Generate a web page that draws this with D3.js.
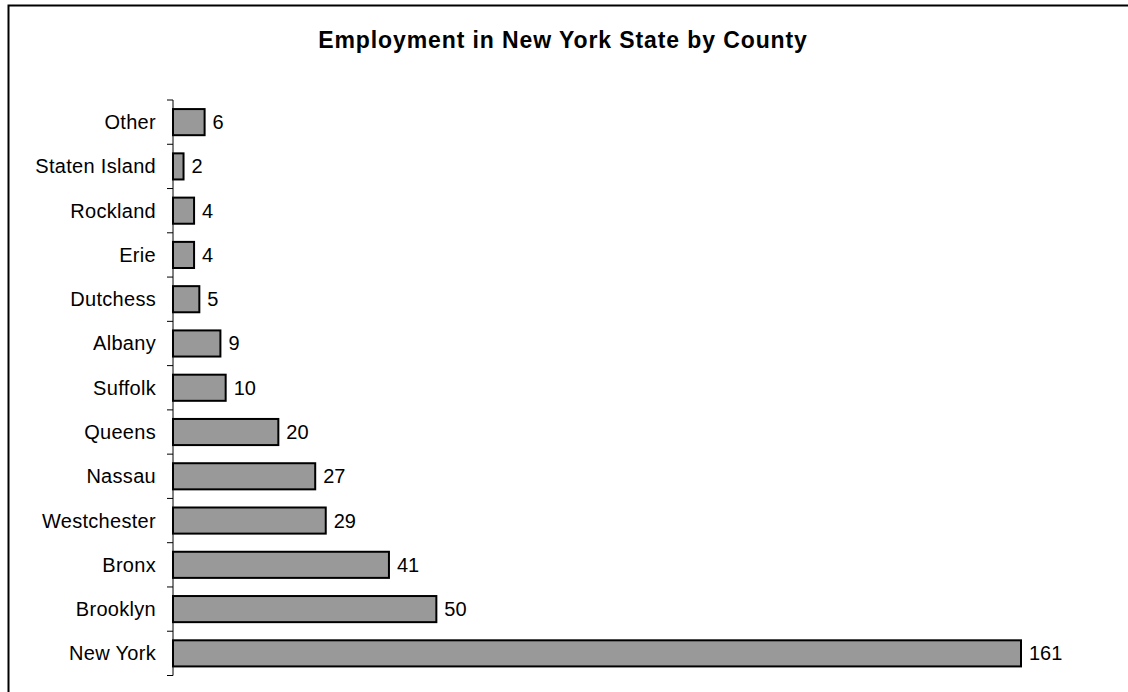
<!DOCTYPE html>
<html>
<head>
<meta charset="utf-8">
<script src="https://cdn.jsdelivr.net/npm/d3@7"></script>
<style>
  html, body { margin: 0; padding: 0; background: #fff; }
  svg { display: block; font-family: "Liberation Sans", Arial, sans-serif; }
</style>
</head>
<body>
<svg id="chart" width="1128" height="692"></svg>
<script>
// Counties, top to bottom
const counties = ["Other", "Staten Island", "Rockland", "Erie", "Dutchess", "Albany",
  "Suffolk", "Queens", "Nassau", "Westchester", "Bronx", "Brooklyn", "New York"];
// Employment by county
const employment = [6, 2, 4, 4, 5, 9, 10, 20, 27, 29, 41, 50, 161];
const chartTitle = "Employment in New York State by County";

const svg = d3.select("#chart");

// Frame around the chart area (left and top edges)
svg.append("path")
  .attr("d", "M8.5,692 L8.5,5.5 L1128,5.5")
  .attr("fill", "none")
  .attr("stroke", "#000")
  .attr("stroke-width", 2);

svg.append("text")
  .attr("x", 563)
  .attr("y", 48)
  .attr("text-anchor", "middle")
  .attr("font-size", 23)
  .attr("font-weight", "bold")
  .attr("letter-spacing", 0.9)
  .text(chartTitle);

const x = d3.scaleLinear().domain([0, 161]).range([173, 1021]);
const y = d3.scaleBand().domain(counties).range([100, 675.5])
  .paddingInner(0.41).paddingOuter(0.205);

const data = counties.map((c, i) => ({ county: c, value: employment[i] }));

// Category axis: line plus tick marks on band boundaries
const g = svg.append("g");
g.append("line")
  .attr("x1", x(0)).attr("x2", x(0))
  .attr("y1", y.range()[0]).attr("y2", y.range()[1])
  .attr("stroke", "#000").attr("stroke-width", 1);

const boundaries = d3.range(counties.length + 1).map(i => y.range()[0] + i * y.step());
g.selectAll("line.tick").data(boundaries).join("line")
  .attr("class", "tick")
  .attr("x1", x(0) - 6).attr("x2", x(0))
  .attr("y1", d => d).attr("y2", d => d)
  .attr("stroke", "#000").attr("stroke-width", 1);

g.selectAll("text.cat").data(counties).join("text")
  .attr("class", "cat")
  .attr("x", 156)
  .attr("y", d => y(d) + y.bandwidth() / 2)
  .attr("dy", "0.35em")
  .attr("text-anchor", "end")
  .attr("font-size", 20)
  .attr("letter-spacing", 0.3)
  .text(d => d);

// Bars
svg.append("g").selectAll("rect").data(data).join("rect")
  .attr("x", x(0))
  .attr("y", d => y(d.county))
  .attr("width", d => x(d.value) - x(0))
  .attr("height", y.bandwidth())
  .attr("fill", "#999999")
  .attr("stroke", "#000")
  .attr("stroke-width", 2);

// Value labels
svg.append("g").selectAll("text").data(data).join("text")
  .attr("x", d => x(d.value) + 8)
  .attr("y", d => y(d.county) + y.bandwidth() / 2)
  .attr("dy", "0.35em")
  .attr("font-size", 20)
  .text(d => d.value);
</script>
</body>
</html>
